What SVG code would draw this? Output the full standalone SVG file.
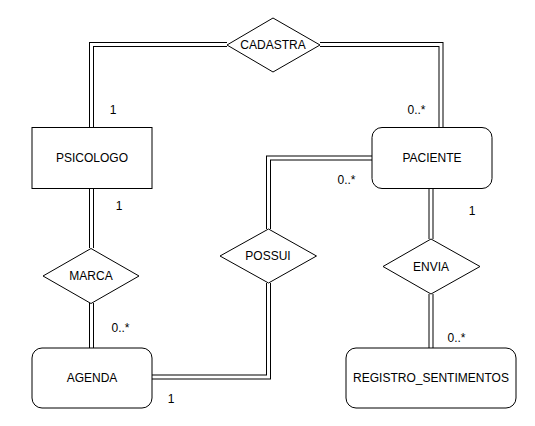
<svg xmlns="http://www.w3.org/2000/svg" width="535" height="426" viewBox="0 0 535 426">
<style>
.shape{fill:#fff;stroke:#000;stroke-width:1}
.t{font-family:"Liberation Sans",Arial,sans-serif;font-size:12px;fill:#000;text-anchor:middle;dominant-baseline:central}
.outer{fill:none;stroke:#000;stroke-width:5}
.inner{fill:none;stroke:#fff;stroke-width:3}
</style>
<rect width="535" height="426" fill="#fff"/>
<g id="connectors">
<g id="c1"><path class="outer" d="M91.5,127 V44.5 H227"/><path class="inner" d="M91.5,127 V44.5 H227"/></g>
<g id="c2"><path class="outer" d="M320,44.5 H441 V127"/><path class="inner" d="M320,44.5 H441 V127"/></g>
<g id="c3"><path class="outer" d="M91.5,188 V248"/><path class="inner" d="M91.5,188 V248"/></g>
<g id="c4"><path class="outer" d="M91.5,303 V348"/><path class="inner" d="M91.5,303 V348"/></g>
<g id="c5"><path class="outer" d="M372,158 H268.5 V229"/><path class="inner" d="M372,158 H268.5 V229"/></g>
<g id="c6"><path class="outer" d="M268.5,283 V377 H152"/><path class="inner" d="M268.5,283 V377 H152"/></g>
<g id="c7"><path class="outer" d="M431,188 V239"/><path class="inner" d="M431,188 V239"/></g>
<g id="c8"><path class="outer" d="M431,294 V348"/><path class="inner" d="M431,294 V348"/></g>
</g>
<g id="psicologo"><rect class="shape" x="32" y="127.5" width="120" height="61"/><text class="t" x="92" y="158">PSICOLOGO</text></g>
<g id="paciente"><rect class="shape" x="372" y="127.5" width="120" height="61" rx="10"/><text class="t" x="432" y="158">PACIENTE</text></g>
<g id="agenda"><rect class="shape" x="32" y="348" width="120" height="60" rx="10"/><text class="t" x="92" y="378">AGENDA</text></g>
<g id="registro"><rect class="shape" x="346" y="348" width="170" height="60" rx="10"/><text class="t" x="431" y="378">REGISTRO_SENTIMENTOS</text></g>
<g id="cadastra"><polygon class="shape" points="273,18 320,45 273,72 227,45"/><text class="t" x="273" y="45">CADASTRA</text></g>
<g id="marca"><polygon class="shape" points="91,248.5 139,276 91,303.5 43,276"/><text class="t" x="91" y="276">MARCA</text></g>
<g id="possui"><polygon class="shape" points="268.5,229 316.5,256 268.5,283 220,256"/><text class="t" x="268" y="256">POSSUI</text></g>
<g id="envia"><polygon class="shape" points="431,239 480,266.5 431,294 383,266.5"/><text class="t" x="431" y="267">ENVIA</text></g>
<g id="labels">
<text class="t" x="113" y="110">1</text>
<text class="t" x="416.5" y="110">0..*</text>
<text class="t" x="346.5" y="179.5">0..*</text>
<text class="t" x="119" y="206">1</text>
<text class="t" x="472" y="211">1</text>
<text class="t" x="120.5" y="328">0..*</text>
<text class="t" x="456.5" y="338">0..*</text>
<text class="t" x="171" y="399">1</text>
</g>
</svg>
